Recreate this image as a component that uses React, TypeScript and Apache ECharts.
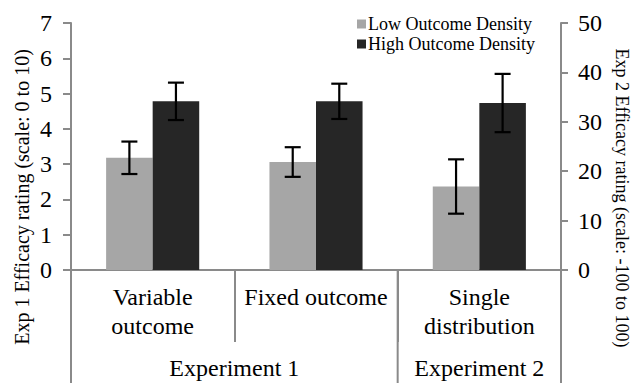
import React, { useEffect, useRef } from "react";
import * as echarts from "echarts";

const categories = ["Variable\noutcome", "Fixed outcome", "Single\ndistribution"];
const groups = ["Experiment 1", "Experiment 2"];
const groupSpans = [[0, 1], [2, 2]];
const seriesNames = ["Low Outcome Density", "High Outcome Density"];

// Experiment 1 (left axis, scale 0-7)
const exp1Low = [3.18, 3.06, "-"];
const exp1LowErr = [0.46, 0.42, 0];
const exp1High = [4.78, 4.78, "-"];
const exp1HighErr = [0.53, 0.5, 0];
// Experiment 2 (right axis, scale 0-50)
const exp2Low = ["-", "-", 16.9];
const exp2LowErr = [0, 0, 5.5];
const exp2High = ["-", "-", 33.8];
const exp2HighErr = [0, 0, 5.9];

const leftTicks = { min: 0, max: 7, interval: 1 };
const rightTicks = { min: 0, max: 50, interval: 10 };

const FONT = "'Liberation Serif', 'Times New Roman', serif";
const GAP = 0.43;
const AXIS_GRAY = "#8a8a8a";
const LIGHT = "#a6a6a6";
const DARK = "#262626";

function errData(means: any[], errs: number[], side: number) {
  const out: any[] = [];
  means.forEach((m, i) => {
    if (typeof m === "number") out.push([i, m - errs[i], m + errs[i], side]);
  });
  return out;
}

function renderErr(params: any, api: any) {
  const cat = api.value(0);
  const lo = api.value(1);
  const hi = api.value(2);
  const side = api.value(3);
  const band = api.size([1, 0])[0];
  const barW = (band * (1 - GAP)) / 2;
  const pLo = api.coord([cat, lo]);
  const pHi = api.coord([cat, hi]);
  const cx = pLo[0] + (side * barW) / 2;
  const cap = 8;
  const style = { stroke: "#000", lineWidth: 2.2 };
  return {
    type: "group",
    children: [
      { type: "line", shape: { x1: cx, y1: pLo[1], x2: cx, y2: pHi[1] }, style },
      { type: "line", shape: { x1: cx - cap, y1: pHi[1], x2: cx + cap, y2: pHi[1] }, style },
      { type: "line", shape: { x1: cx - cap, y1: pLo[1], x2: cx + cap, y2: pLo[1] }, style },
    ],
  };
}

export default function App() {
  const ref = useRef<HTMLDivElement>(null);
  useEffect(() => {
    document.body.style.margin = "0";
    const chart = echarts.init(ref.current!, null, { renderer: "svg" });
    const gridLeft = 71;
    const gridRight = 75;
    const gridTop = 23;
    const gridBottom = 113;
    const option: any = {
      animation: false,
      grid: { left: gridLeft, right: gridRight, top: gridTop, bottom: gridBottom },
      legend: {
        orient: "vertical",
        left: 357,
        top: 15,
        padding: 0,
        itemGap: 2,
        itemWidth: 9,
        itemHeight: 9,
        icon: "rect",
        data: seriesNames,
        textStyle: { fontFamily: FONT, fontSize: 18, color: "#000", padding: [0, 0, 0, -3] },
      },
      xAxis: [
        {
          type: "category",
          data: categories,
          axisLine: { lineStyle: { color: AXIS_GRAY, width: 2 } },
          axisTick: { show: true, length: 72, interval: 0, lineStyle: { color: AXIS_GRAY, width: 2 } },
          axisLabel: {
            interval: 0,
            margin: 12,
            fontFamily: FONT,
            fontSize: 24,
            lineHeight: 29,
            color: "#000",
          },
        },
        { type: "category", data: categories, show: false },
      ],
      yAxis: [
        {
          type: "value",
          ...leftTicks,
          splitLine: { show: false },
          axisLine: { show: true, lineStyle: { color: AXIS_GRAY, width: 2 } },
          axisTick: { show: true, length: 8, lineStyle: { color: AXIS_GRAY, width: 2 } },
          axisLabel: { margin: 19, fontFamily: FONT, fontSize: 24, color: "#000" },
        },
        {
          type: "value",
          ...rightTicks,
          position: "right",
          splitLine: { show: false },
          axisLine: { show: true, lineStyle: { color: AXIS_GRAY, width: 2 } },
          axisTick: { show: true, length: 7, lineStyle: { color: AXIS_GRAY, width: 2 } },
          axisLabel: { margin: 17, fontFamily: FONT, fontSize: 24, color: "#000" },
        },
      ],
      series: [
        { name: seriesNames[0], type: "bar", xAxisIndex: 0, yAxisIndex: 0, data: exp1Low, itemStyle: { color: LIGHT }, barGap: 0, barCategoryGap: GAP * 100 + "%" },
        { name: seriesNames[1], type: "bar", xAxisIndex: 0, yAxisIndex: 0, data: exp1High, itemStyle: { color: DARK }, barGap: 0, barCategoryGap: GAP * 100 + "%" },
        { name: seriesNames[0], type: "bar", xAxisIndex: 1, yAxisIndex: 1, data: exp2Low, itemStyle: { color: LIGHT }, barGap: 0, barCategoryGap: GAP * 100 + "%" },
        { name: seriesNames[1], type: "bar", xAxisIndex: 1, yAxisIndex: 1, data: exp2High, itemStyle: { color: DARK }, barGap: 0, barCategoryGap: GAP * 100 + "%" },
        {
          type: "custom", xAxisIndex: 0, yAxisIndex: 0, z: 10, renderItem: renderErr,
          data: [...errData(exp1Low, exp1LowErr, -1), ...errData(exp1High, exp1HighErr, 1)],
        },
        {
          type: "custom", xAxisIndex: 1, yAxisIndex: 1, z: 10, renderItem: renderErr,
          data: [...errData(exp2Low, exp2LowErr, -1), ...errData(exp2High, exp2HighErr, 1)],
        },
      ],
    };
    chart.setOption(option);

    // group labels and separators below axis
    const c0 = chart.convertToPixel({ xAxisIndex: 0 }, 0) as number;
    const c1 = chart.convertToPixel({ xAxisIndex: 0 }, 1) as number;
    const band = c1 - c0;
    const bottomY = 383;
    const axisY = 383 - gridBottom;
    const sepXs = [c0 - band / 2, c0 - band / 2 + band * 2, c0 - band / 2 + band * 3];
    const graphic: any[] = sepXs.map((x) => ({
      type: "line",
      shape: { x1: x, y1: axisY, x2: x, y2: bottomY },
      style: { stroke: AXIS_GRAY, lineWidth: 2 },
    }));
    groups.forEach((g, gi) => {
      const [a, b] = groupSpans[gi];
      const x = c0 + ((a + b) / 2) * band;
      graphic.push({
        type: "text",
        x,
        y: 368,
        style: { text: g, fontFamily: FONT, fontSize: 24, fill: "#000", align: "center", verticalAlign: "middle" },
      });
    });
    graphic.push({
      type: "text",
      x: 22,
      y: 197,
      rotation: Math.PI / 2,
      style: { text: "Exp 1 Efficacy rating (scale: 0 to 10)", fontFamily: FONT, fontSize: 20, fill: "#000", align: "center", verticalAlign: "middle" },
    });
    graphic.push({
      type: "text",
      x: 622,
      y: 198,
      rotation: -Math.PI / 2,
      style: { text: "Exp 2 Efficacy rating (scale: -100 to 100)", fontFamily: FONT, fontSize: 18, fill: "#000", align: "center", verticalAlign: "middle" },
    });
    chart.setOption({ graphic });
    return () => chart.dispose();
  }, []);
  return <div ref={ref} style={{ width: 636, height: 383 }} />;
}
